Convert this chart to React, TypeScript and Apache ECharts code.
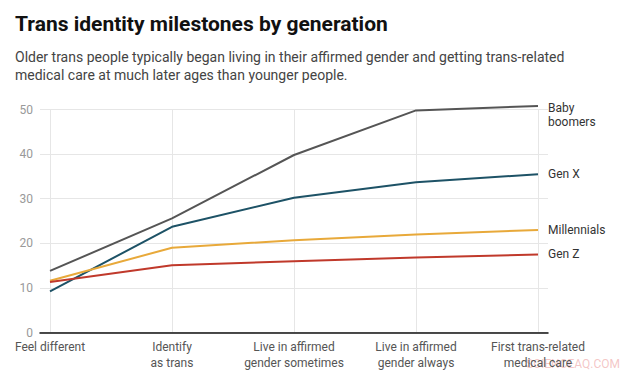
import React, { useEffect, useRef } from "react";
import * as echarts from "echarts";

const categories = [
  "Feel different",
  "Identify\nas trans",
  "Live in affirmed\ngender sometimes",
  "Live in affirmed\ngender always",
  "First trans-related\nmedical care",
];
const babyBoomers = [13.8, 25.6, 39.8, 49.8, 50.8];
const genX = [9.2, 23.7, 30.2, 33.7, 35.5];
const millennials = [11.6, 19.0, 20.7, 22.0, 23.0];
const genZ = [11.3, 15.1, 16.0, 16.8, 17.5];
const yTicks = [0, 10, 20, 30, 40, 50];

const seriesDefs = [
  { name: "Baby boomers", label: "Baby\nboomers", values: babyBoomers, color: "#555555", offset: [0, 9] },
  { name: "Gen X", label: "Gen X", values: genX, color: "#1d5266", offset: [0, 0] },
  { name: "Millennials", label: "Millennials", values: millennials, color: "#e8a93a", offset: [0, 0] },
  { name: "Gen Z", label: "Gen Z", values: genZ, color: "#c0392b", offset: [0, 0] },
];

export default function App() {
  const ref = useRef<HTMLDivElement>(null);
  useEffect(() => {
    if (!ref.current) return;
    const chart = echarts.init(ref.current, null, { renderer: "svg" });
    const idx = categories.map((_, i) => i);
    chart.setOption({
      animation: false,
      backgroundColor: "#ffffff",
      textStyle: { fontFamily: "Roboto" },
      title: {
        left: 15,
        top: 11,
        text: "Trans identity milestones by generation",
        textStyle: { fontFamily: "Roboto", fontWeight: "bold", fontSize: 21, color: "#111111", lineHeight: 26 },
        subtext:
          "Older trans people typically began living in their affirmed gender and getting trans-related\nmedical care at much later ages than younger people.",
        subtextStyle: { fontFamily: "Roboto", fontSize: 14, color: "#444444", lineHeight: 18 },
        itemGap: 11,
        padding: 0,
      },
      grid: { left: 40, right: 86, top: 109.5, bottom: 43.5, containLabel: false },
      xAxis: {
        type: "value",
        min: -0.082,
        max: 4.082,
        axisLine: { show: true, onZero: false, lineStyle: { color: "#111111", width: 1.5 } },
        axisTick: { show: false, customValues: idx },
        axisLabel: {
          customValues: idx,
          formatter: (v: number) => categories[Math.round(v)] ?? "",
          color: "#555555",
          fontSize: 12,
          lineHeight: 16,
          margin: 6,
          fontFamily: "Roboto",
        },
        splitLine: { show: true, lineStyle: { color: "#e6e6e6", width: 1 } },
      },
      yAxis: {
        type: "value",
        min: yTicks[0],
        max: yTicks[yTicks.length - 1],
        interval: 10,
        axisLine: { show: false },
        axisTick: { show: false },
        axisLabel: { color: "#999999", fontSize: 12, margin: 7, fontFamily: "Roboto" },
        splitLine: { show: true, lineStyle: { color: "#e6e6e6", width: 1 } },
      },
      series: seriesDefs.map((s) => ({
        name: s.name,
        type: "line",
        clip: false,
        data: s.values.map((v, i) => [i, v]),
        showSymbol: false,
        symbol: "none",
        lineStyle: { color: s.color, width: 2 },
        itemStyle: { color: s.color },
        endLabel: {
          show: true,
          formatter: () => s.label,
          distance: 10,
          color: "#333333",
          fontSize: 12,
          lineHeight: 14,
          fontFamily: "Roboto",
          offset: s.offset,
        },
      })),
      graphic: [
        {
          type: "text",
          right: 14,
          top: 358,
          style: {
            text: "SCIENCEAQ.COM",
            fill: "rgba(235,150,150,0.55)",
            fontSize: 12,
            fontFamily: "Roboto",
          },
        },
      ],
    });
    return () => chart.dispose();
  }, []);
  return <div ref={ref} style={{ position: "fixed", left: 0, top: 0, width: 634, height: 376 }} />;
}
